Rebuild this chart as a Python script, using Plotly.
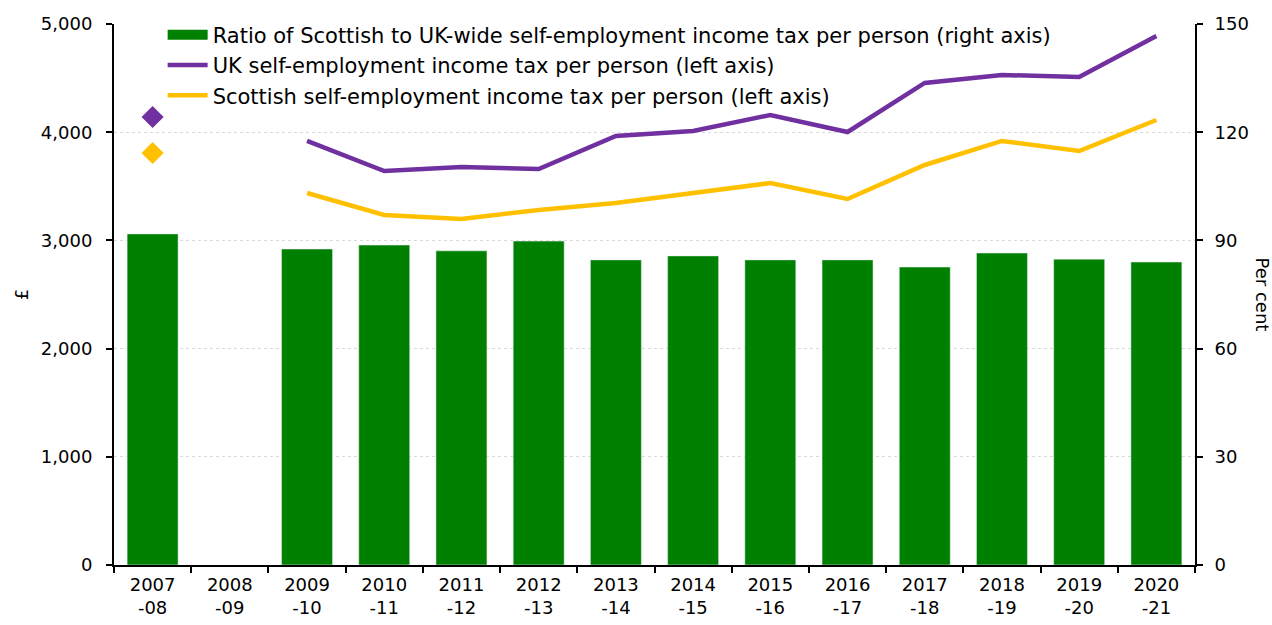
import plotly.graph_objects as go

# Financial years on the category axis
years = ["2007<br>-08", "2008<br>-09", "2009<br>-10", "2010<br>-11", "2011<br>-12",
         "2012<br>-13", "2013<br>-14", "2014<br>-15", "2015<br>-16", "2016<br>-17",
         "2017<br>-18", "2018<br>-19", "2019<br>-20", "2020<br>-21"]

# Self-employment income tax per person, £ (no figure for 2008-09)
uk_tax = [4140, None, 3919, 3641, 3678, 3660, 3965, 4011, 4159, 4002, 4455, 4529, 4510, 4889]
scot_tax = [3808, None, 3438, 3235, 3198, 3281, 3346, 3438, 3530, 3383, 3697, 3919, 3826, 4113]

# Scottish as a share of UK-wide, per cent
ratio_pct = [91.8, None, 87.6, 88.7, 87.1, 89.8, 84.6, 85.7, 84.6, 84.6, 82.6, 86.5, 84.8, 84.0]

GREEN = "#008000"
PURPLE = "#7030A0"
GOLD = "#FFC000"
FONT = "DejaVu Sans"

RATIO_NAME = "Ratio of Scottish to UK-wide self-employment income tax per person (right axis)"

fig = go.Figure()

fig.add_trace(go.Bar(
    x=years, y=ratio_pct, yaxis="y2", marker_color=GREEN, width=0.66,
    name=RATIO_NAME, showlegend=False,
))

# Legend entry for the bars, drawn as a thick swatch
fig.add_trace(go.Scatter(
    x=[years[1]], y=[None], yaxis="y2", mode="lines",
    line=dict(color=GREEN, width=14), name=RATIO_NAME, hoverinfo="skip",
))

# Continuous series from 2009-10 onwards
fig.add_trace(go.Scatter(
    x=years[2:], y=uk_tax[2:], mode="lines", line=dict(color=PURPLE, width=4.5),
    name="UK self-employment income tax per person (left axis)",
))
fig.add_trace(go.Scatter(
    x=years[2:], y=scot_tax[2:], mode="lines", line=dict(color=GOLD, width=4.5),
    name="Scottish self-employment income tax per person (left axis)",
))

# Isolated 2007-08 observations shown as diamonds
fig.add_trace(go.Scatter(
    x=years[:1], y=uk_tax[:1], mode="markers", showlegend=False,
    marker=dict(symbol="diamond", size=17, color=PURPLE),
))
fig.add_trace(go.Scatter(
    x=years[:1], y=scot_tax[:1], mode="markers", showlegend=False,
    marker=dict(symbol="diamond", size=17, color=GOLD),
))

fig.update_layout(
    width=1272, height=625,
    margin=dict(l=114, r=77, t=24, b=60),
    plot_bgcolor="white", paper_bgcolor="white",
    font=dict(family=FONT, size=18, color="black"),
    showlegend=True,
    legend=dict(
        x=0.045, y=1.0174, xanchor="left", yanchor="top",
        bgcolor="rgba(0,0,0,0)", font=dict(size=21, family=FONT),
        tracegroupgap=0, itemwidth=40, traceorder="normal",
    ),
    xaxis=dict(
        type="category", categoryorder="array", categoryarray=years,
        range=[-0.5, len(years) - 0.5], automargin=False,
        showline=True, linecolor="black", linewidth=2,
        ticks="outside", tickson="boundaries", ticklen=6, tickcolor="black", tickwidth=1.5,
        ticklabelstandoff=2,
        showgrid=False, tickfont=dict(size=18),
    ),
    yaxis=dict(
        range=[0, 5000], tickvals=[0, 1000, 2000, 3000, 4000, 5000],
        tickformat=",d", showline=True, linecolor="black", linewidth=2,
        ticks="outside", ticklen=6, tickcolor="black", tickwidth=1.5,
        ticklabelstandoff=10,
        showgrid=True, gridcolor="#d9d9d9", griddash="dot", gridwidth=1,
        zeroline=False, automargin=False,
        title=dict(text="£", font=dict(size=18), standoff=8),
    ),
    yaxis2=dict(
        range=[0, 150], tickvals=[0, 30, 60, 90, 120, 150],
        overlaying="y", side="right", showline=True, linecolor="black", linewidth=2,
        ticks="outside", ticklen=6, tickcolor="black", tickwidth=1.5,
        ticklabelstandoff=8,
        showgrid=False, zeroline=False, automargin=False,
    ),
    annotations=[dict(
        text="Per cent", textangle=90, xref="paper", yref="paper",
        x=1.0, y=0.5, xanchor="center", xshift=67, showarrow=False, font=dict(size=18),
    )],
)

fig.write_html("out.html")
